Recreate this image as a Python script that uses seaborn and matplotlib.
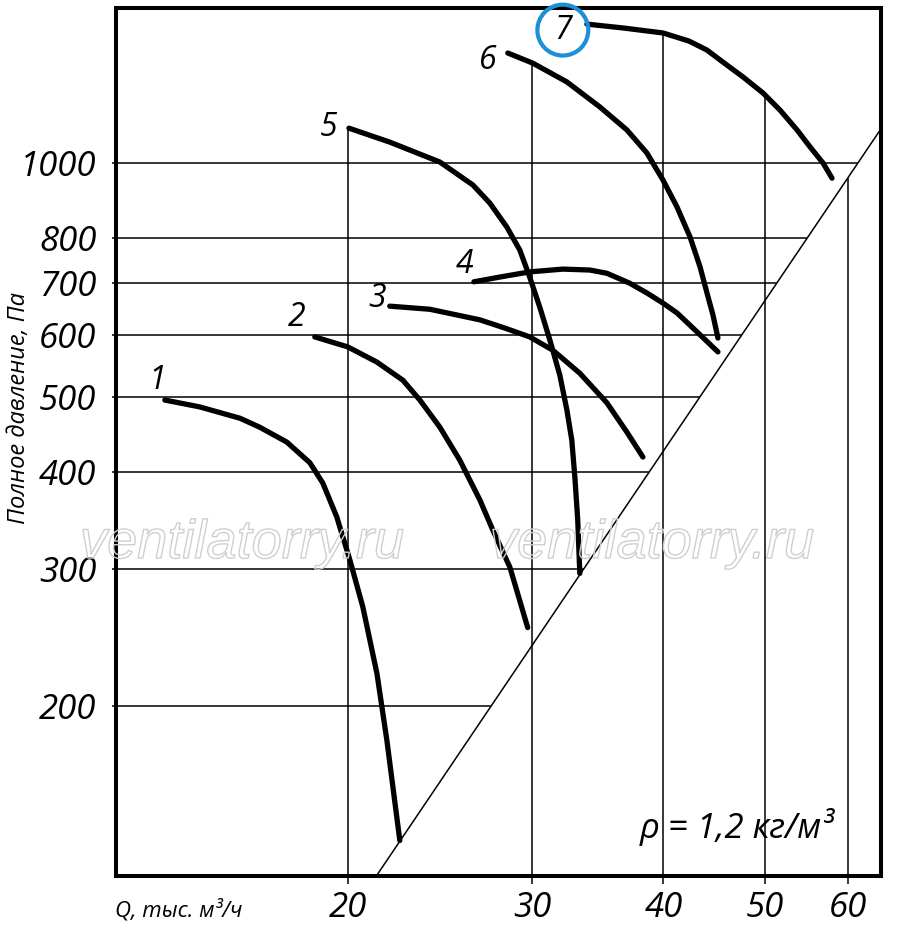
import numpy as np
import pandas as pd
import matplotlib
matplotlib.use("Agg")
import matplotlib.pyplot as plt
import matplotlib.patheffects as pe
from matplotlib.ticker import NullLocator, FixedLocator, FixedFormatter
import seaborn as sns

# ---------------- data ----------------
CURVE_NAMES = ["1", "2", "3", "4", "5", "6", "7"]

Q1 = [13.38, 14.45, 15.78, 16.48, 17.49, 18.40, 18.93, 19.52, 20.09, 20.67, 21.32, 21.79, 22.42]
P1 = [495, 485, 469, 456.7, 437, 411, 387, 350, 308, 268, 220, 180.5, 134]

Q2 = [18.60, 20.0, 21.32, 22.57, 23.43, 24.48, 25.58, 26.73, 27.50, 28.55, 29.11, 29.69]
P2 = [597, 579.5, 554, 525, 495, 456.7, 414, 368, 336.6, 301.5, 275.9, 252]

Q3 = [21.93, 23.95, 26.73, 28.24, 29.82, 31.37, 33.29, 35.33, 36.92, 38.24]
P3 = [654, 648, 628, 612.8, 597, 574, 536, 491, 450, 418]

Q4 = [26.38, 27.93, 29.82, 32.07, 34.03, 35.33, 37.16, 38.58, 39.96, 41.21, 42.41, 45.09]
P4 = [703, 713, 724, 730, 728, 721, 700, 680, 660, 641, 618, 571]

Q5 = [20.05, 21.93, 24.48, 26.32, 27.32, 28.36, 29.18, 29.82, 30.49, 31.17, 31.86, 32.36,
      32.71, 32.93, 33.14, 33.29]
P5 = [1109, 1064, 1003, 937, 888, 827, 772.5, 713, 652, 591.5, 533, 480.5,
      439.5, 394, 346.7, 296]

Q6 = [28.42, 30.02, 32.36, 34.79, 36.92, 38.58, 39.96, 41.21, 42.41, 43.35, 44.02, 44.60, 45.09]
P6 = [1386, 1345, 1272, 1181, 1103, 1030, 951, 878, 803, 735, 680, 637, 595]

Q7 = [33.81, 36.59, 39.96, 42.31, 44.02, 45.59, 47.64, 49.78, 51.68, 53.65, 55.20, 56.80, 57.93]
P7 = [1510, 1493, 1471, 1436, 1398, 1349, 1291, 1231, 1170, 1103, 1049, 1000, 956]

X_TICKS = [20, 30, 40, 50, 60]
X_TICK_LABELS = ["20", "30", "40", "50", "60"]
Y_TICKS = [200, 300, 400, 500, 600, 700, 800, 1000]
Y_TICK_LABELS = ["200", "300", "400", "500", "600", "700", "800", "1000"]

SYSTEM_K = 0.266          # system line  P = k * Q^2
X_LIMITS = (12.02, 64.58)
Y_LIMITS = (120.6, 1584)

X_LABEL = "Q, тыс. м³/ч"
Y_LABEL = "Полное давление, Па"
DENSITY_NOTE = "ρ = 1,2 кг/м³"
WATERMARK = "ventilatorry.ru"

# ---------------- styles ----------------
FONT = ["Open Sans", "DejaVu Sans"]
LABEL_OFFSETS = [(-5.8, 14.4), (-13, 13.7), (-9.4, 5.8), (-6.5, 12.2),
                 (-14.4, 0.5), (-14.4, -5.3), (-17.3, -4.3)]
HIGHLIGHT = "7"
BLUE = "#1b8fd8"

curves_q = [Q1, Q2, Q3, Q4, Q5, Q6, Q7]
curves_p = [P1, P2, P3, P4, P5, P6, P7]

frames = []
for name, q, p in zip(CURVE_NAMES, curves_q, curves_p):
    frames.append(pd.DataFrame({"Q": q, "P": p, "curve": name}))
df = pd.concat(frames, ignore_index=True)

sns.set_theme(style="white")
plt.rcParams["font.family"] = FONT
plt.rcParams["text.color"] = "black"
plt.rcParams["xtick.color"] = "black"
plt.rcParams["ytick.color"] = "black"

fig = plt.figure(figsize=(9, 9.25), dpi=100)
ax = fig.add_axes([116 / 900, 49 / 925, 765.5 / 900, 868 / 925])
ax.set_xscale("log")
ax.set_yscale("log")
ax.set_xlim(*X_LIMITS)
ax.set_ylim(*Y_LIMITS)


def envelope(q):
    vals = []
    for cq, cp in zip(curves_q, curves_p):
        if cq[0] <= q * 1.01:
            vals.append(10 ** np.interp(np.log10(q), np.log10(cq), np.log10(cp)))
    return max(vals)


# grid lines clipped by the curves / system line
ax.vlines(X_TICKS, Y_LIMITS[0], [envelope(q) for q in X_TICKS],
          color="black", lw=1.1, zorder=1)
ax.hlines(Y_TICKS, X_LIMITS[0], [np.sqrt(p / SYSTEM_K) for p in Y_TICKS],
          color="black", lw=1.1, zorder=1)

# system line
q_sys = np.array([np.sqrt(Y_LIMITS[0] / SYSTEM_K), X_LIMITS[1]])
ax.plot(q_sys, SYSTEM_K * q_sys ** 2, color="black", lw=1.1, zorder=1)

# watermark
for xf in (80 / 900, 490 / 900):
    fig.text(xf, 1 - 558 / 925, WATERMARK, fontsize=39, style="italic",
             family=["Liberation Sans", "DejaVu Sans"], color=(1, 1, 1, 0),
             ha="left", va="baseline", zorder=2,
             path_effects=[pe.Stroke(linewidth=1.0, foreground="#cfcfcf")])

# fan curves
sns.lineplot(data=df, x="Q", y="P", hue="curve", palette=["black"] * len(CURVE_NAMES),
             sort=False, estimator=None, legend=False, lw=3.8, ax=ax, zorder=3)
for line in ax.get_lines():
    line.set_solid_capstyle("round")
    line.set_solid_joinstyle("round")

# curve labels
for name, q, p, off in zip(CURVE_NAMES, curves_q, curves_p, LABEL_OFFSETS):
    kw = {}
    if name == HIGHLIGHT:
        kw["bbox"] = dict(boxstyle="circle,pad=0.28", fc="none", ec=BLUE, lw=3)
    ax.annotate(name, xy=(q[0], p[0]), xytext=off, textcoords="offset points",
                ha="center", va="center", fontsize=23, style="italic",
                color="black", zorder=4, **kw)

# ticks
ax.xaxis.set_major_locator(FixedLocator(X_TICKS))
ax.xaxis.set_major_formatter(FixedFormatter(X_TICK_LABELS))
ax.yaxis.set_major_locator(FixedLocator(Y_TICKS))
ax.yaxis.set_major_formatter(FixedFormatter(Y_TICK_LABELS))
ax.xaxis.set_minor_locator(NullLocator())
ax.yaxis.set_minor_locator(NullLocator())
ax.tick_params(axis="x", direction="out", length=6, width=1.1, pad=5,
               labelsize=25, bottom=True, color="black", labelcolor="black")
ax.tick_params(axis="y", direction="out", length=3, width=1.1, pad=11,
               labelsize=25, left=True, color="black", labelcolor="black")
for lab in ax.get_xticklabels() + ax.get_yticklabels():
    lab.set_fontstyle("italic")

ax.set_xlabel("")
ax.set_ylabel("")
ax.grid(False)
for s in ax.spines.values():
    s.set_visible(True)
    s.set_color("black")
    s.set_linewidth(2.9)

# texts
fig.text(115 / 900, 1 - 917 / 925, X_LABEL, fontsize=16, style="italic",
         ha="left", va="baseline", color="black")
fig.text(19 / 900, 1 - 408 / 925, Y_LABEL, fontsize=17, style="italic",
         rotation=90, ha="center", va="center", color="black")
fig.text(640 / 900, 1 - 838 / 925, DENSITY_NOTE, fontsize=25, style="italic",
         ha="left", va="baseline", color="black")

fig.savefig("out.png", dpi=100, facecolor="white")
